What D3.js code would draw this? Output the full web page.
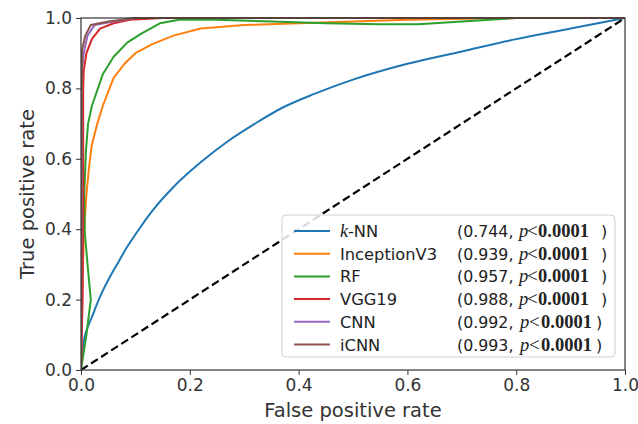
<!DOCTYPE html>
<html><head><meta charset="utf-8">
<script src="https://cdn.jsdelivr.net/npm/d3@7"></script>
<style>body{margin:0;background:#fff}svg{display:block}</style>
</head><body>
<svg id="c" width="638" height="424"></svg>
<script>
const models = ["k-NN","InceptionV3","RF","VGG19","CNN","iCNN"];
const aucs = ["0.744","0.939","0.957","0.988","0.992","0.993"];
const pText = "0.0001";
const colors = ["#1f77b4","#ff7f0e","#2ca02c","#d62728","#9467bd","#8c564b"];
const xTicks = [0,0.2,0.4,0.6,0.8,1.0];
const yTicks = [0,0.2,0.4,0.6,0.8,1.0];

const knnFpr = [0,0.005,0.012,0.02,0.03,0.04,0.055,0.07,0.085,0.1,0.13,0.17,0.22,0.27,0.32,0.37,0.43,0.5,0.6,0.7,0.8,0.9,1.0];
const knnTpr = [0,0.08,0.12,0.15,0.19,0.225,0.27,0.31,0.35,0.385,0.45,0.52,0.59,0.65,0.70,0.745,0.785,0.825,0.87,0.905,0.94,0.97,1.0];
const incFpr = [0,0.002,0.005,0.01,0.015,0.02,0.03,0.04,0.06,0.08,0.1,0.13,0.17,0.22,0.3,0.4,0.5,0.6,0.8,1];
const incTpr = [0,0.2,0.38,0.5,0.58,0.64,0.7,0.75,0.83,0.87,0.9,0.925,0.95,0.97,0.98,0.985,0.99,0.995,1,1];
const rfFpr = [0,0.01,0.018,0.012,0.007,0.006,0.009,0.013,0.02,0.04,0.06,0.085,0.11,0.145,0.18,0.25,0.35,0.45,0.55,0.62,0.7,0.8,1];
const rfTpr = [0,0.1,0.2,0.3,0.39,0.5,0.62,0.7,0.75,0.84,0.89,0.93,0.955,0.985,0.995,0.995,0.99,0.985,0.982,0.982,0.99,1,1];
const vggFpr = [0,0.003,0.004,0.004,0.005,0.01,0.02,0.035,0.06,0.09,0.15,1];
const vggTpr = [0,0.2,0.5,0.8,0.85,0.9,0.94,0.97,0.985,0.995,1,1];
const cnnFpr = [0,0.001,0.002,0.005,0.012,0.025,0.06,0.1,1];
const cnnTpr = [0,0.5,0.85,0.9,0.95,0.98,0.99,1,1];
const icnnFpr = [0,0.001,0.002,0.008,0.018,0.05,0.1,1];
const icnnTpr = [0,0.6,0.91,0.95,0.98,0.99,1,1];
const diagFpr = [0,1];
const diagTpr = [0,1];

const series = [[knnFpr,knnTpr],[incFpr,incTpr],[rfFpr,rfTpr],[vggFpr,vggTpr],[cnnFpr,cnnTpr],[icnnFpr,icnnTpr]];

const svg = d3.select("#c");
const W=638,H=424;
const m={l:81,r:13,t:18,b:54};
const x=d3.scaleLinear().domain([0,1]).range([m.l,W-m.r]);
const y=d3.scaleLinear().domain([0,1]).range([H-m.b,m.t]);

const g=svg.append("g");
svg.append("defs").append("clipPath").attr("id","pc").append("rect")
  .attr("x",m.l).attr("y",m.t-2).attr("width",W-m.r-m.l+2).attr("height",H-m.b-m.t+2);

const line=d3.line().x(d=>x(d[0])).y(d=>y(d[1]));
const smooth=d3.line().x(d=>x(d[0])).y(d=>y(d[1])).curve(d3.curveMonotoneX);
const plot=g.append("g").attr("clip-path","url(#pc)");
series.forEach((s,i)=>{
  const pts=s[0].map((f,j)=>[f,s[1][j]]);
  plot.append("path").attr("d",(i===0?smooth:line)(pts)).attr("fill","none")
    .attr("stroke",colors[i]).attr("stroke-width",2).attr("stroke-linejoin","round");
});
plot.append("path").attr("d",line(diagFpr.map((f,j)=>[f,diagTpr[j]])))
  .attr("fill","none").attr("stroke","#000").attr("stroke-width",2.2).attr("stroke-dasharray","8,4");

// axes
const font="'DejaVu Sans', sans-serif";
const xa=g.append("g").attr("transform",`translate(0,${H-m.b})`)
  .call(d3.axisBottom(x).tickValues(xTicks).tickFormat(d3.format(".1f")).tickSize(5).tickPadding(4));
const ya=g.append("g").attr("transform",`translate(${m.l},0)`)
  .call(d3.axisLeft(y).tickValues(yTicks).tickFormat(d3.format(".1f")).tickSize(5).tickPadding(4));
[xa,ya].forEach(a=>{
  a.select(".domain").remove();
  a.selectAll("line").attr("stroke","#333").attr("stroke-width",1);
  a.selectAll("text").attr("font-family",font).attr("font-size",17).attr("fill","#333");
});
g.append("rect").attr("x",m.l).attr("y",m.t).attr("width",W-m.r-m.l).attr("height",H-m.b-m.t)
  .attr("fill","none").attr("stroke","#333").attr("stroke-width",1.2);

svg.append("text").attr("x",(m.l+W-m.r)/2).attr("y",417).attr("text-anchor","middle")
  .attr("font-family",font).attr("font-size",19.5).attr("fill","#333").text("False positive rate");
svg.append("text").attr("transform",`translate(34,${(m.t+H-m.b)/2}) rotate(-90)`).attr("text-anchor","middle")
  .attr("font-family",font).attr("font-size",19.5).attr("fill","#333").text("True positive rate");

// legend
const lg=svg.append("g");
lg.append("rect").attr("x",282).attr("y",215).attr("width",333).attr("height",142).attr("rx",4)
  .attr("fill","#fff").attr("fill-opacity",0.85).attr("stroke","#d0d0d0");
const serif="'Liberation Serif','Times New Roman',serif";
models.forEach((mn,i)=>{
  const yy=231+i*22.7;
  const by=yy+6;
  const late=i>=4;
  lg.append("line").attr("x1",294).attr("x2",330).attr("y1",yy).attr("y2",yy)
    .attr("stroke",colors[i]).attr("stroke-width",2);
  const t=lg.append("text").attr("x",340).attr("y",by).attr("font-family",font).attr("font-size",16.3).attr("fill","#222");
  if(mn==="k-NN"){
    t.append("tspan").attr("font-family",serif).attr("font-style","italic").attr("font-size",18).text("k");
    t.append("tspan").text("-NN");
  } else t.text(mn);
  lg.append("text").attr("x",457).attr("y",by).attr("font-family",font).attr("font-size",15.8).attr("fill","#222")
    .text("("+aucs[i]+",");
  lg.append("text").attr("x",late?520:519).attr("y",by).attr("font-family",serif).attr("font-style","italic").attr("font-size",18.5).attr("fill","#222").text("p");
  lg.append("text").attr("x",late?529:527).attr("y",by).attr("font-family",serif).attr("font-size",19).attr("fill","#222").text("<");
  lg.append("text").attr("x",late?541:538).attr("y",by).attr("font-family",serif).attr("font-weight","bold").attr("font-size",18.5).attr("fill","#222").text(pText);
  lg.append("text").attr("x",late?596:601).attr("y",by).attr("font-family",font).attr("font-size",16).attr("fill","#222").text(")");
});
</script>
</body></html>
